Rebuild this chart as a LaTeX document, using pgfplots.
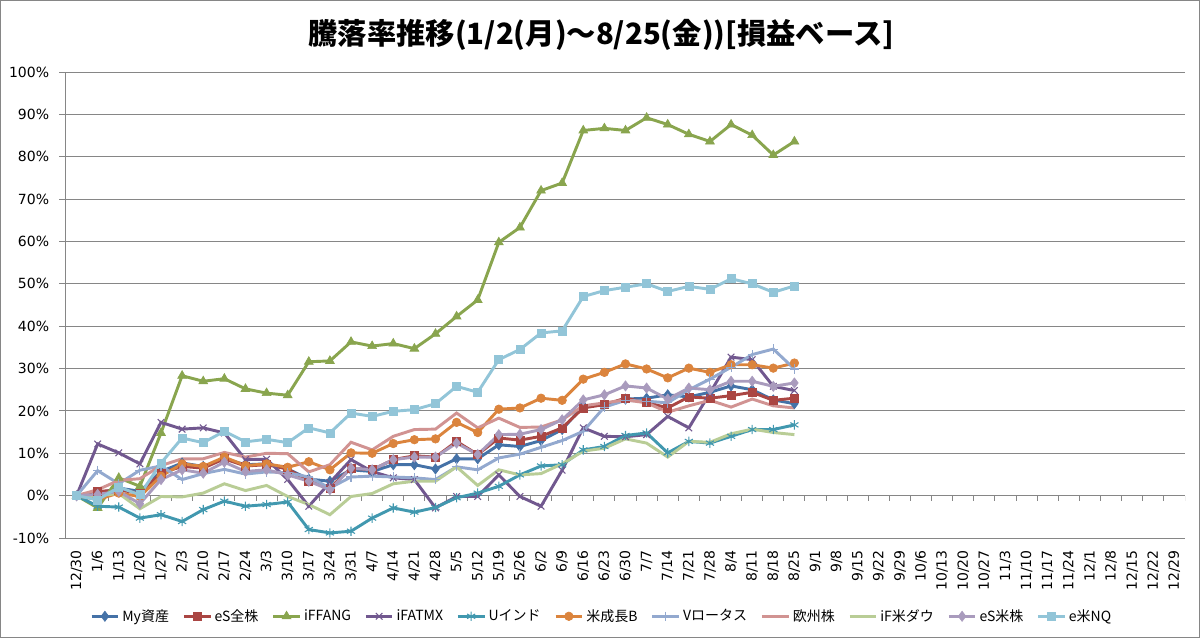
\documentclass[border=0pt]{standalone}
\usepackage{fontspec}
\setmainfont{DejaVu Sans}
\newfontfamily\jp{Noto Sans CJK JP}
\usepackage{pgfplots}
\pgfplotsset{compat=1.18}
\usepackage{pgfplotstable}
\definecolor{gridgray}{HTML}{868686}
\definecolor{c1}{HTML}{4572A7}
\definecolor{c2}{HTML}{AA4643}
\definecolor{c3}{HTML}{89A54E}
\definecolor{c4}{HTML}{71588F}
\definecolor{c5}{HTML}{4198AF}
\definecolor{c6}{HTML}{DB843D}
\definecolor{c7}{HTML}{93A9CF}
\definecolor{c8}{HTML}{D19392}
\definecolor{c9}{HTML}{B9CD96}
\definecolor{c10}{HTML}{A99BBD}
\definecolor{c11}{HTML}{92C5D8}

\pgfplotstableread{
x my esz fang fatmx uind seicho vlot euro dow esus nq
0 0 0 0 0 0 0 0 0 0 0 0
1 0.5 1.0 -2.9 12.2 -2.5 -0.9 5.9 1.4 0.0 0.3 -1.0
2 1.8 1.3 4.2 10.1 -2.7 0.6 2.8 3.6 0.5 1.0 2.0
3 1.0 0.6 2.2 7.5 -5.3 -0.2 6.0 4.0 -3.1 -1.9 0.2
4 5.7 5.3 14.8 17.3 -4.5 4.6 7.0 7.1 -0.2 3.8 7.7
5 7.7 6.9 28.3 15.7 -6.1 7.5 3.8 8.7 -0.3 6.1 13.6
6 6.9 6.5 27.0 16.0 -3.3 6.9 5.2 8.7 0.6 5.3 12.5
7 8.7 8.7 27.6 14.8 -1.3 9.1 6.2 10.2 2.8 7.9 15.2
8 7.3 7.0 25.2 8.5 -2.5 7.1 5.1 9.1 1.2 5.7 12.7
9 7.5 7.3 24.2 8.6 -2.1 7.5 5.6 10.0 2.4 6.1 13.3
10 6.3 6.3 23.7 3.8 -1.5 6.7 5.4 9.9 -0.2 4.9 12.5
11 3.9 3.4 31.6 -2.5 -8.0 8.0 4.4 5.6 -2.1 3.4 16.0
12 3.4 1.8 31.8 3.1 -8.8 6.1 1.8 7.3 -4.5 1.4 14.8
13 6.1 6.5 36.3 8.5 -8.4 10.1 4.4 12.6 -0.2 6.5 19.5
14 5.7 6.1 35.3 5.7 -5.3 10.0 4.6 10.8 0.5 6.1 18.7
15 7.3 8.5 35.9 4.2 -2.9 12.3 4.4 14.0 2.8 8.5 19.9
16 7.3 9.4 34.7 3.8 -3.9 13.2 4.2 15.6 3.4 9.1 20.3
17 6.3 9.1 38.2 -2.9 -2.8 13.4 3.8 15.7 3.4 9.1 21.7
18 8.7 12.8 42.3 -0.2 -0.5 17.3 6.8 19.5 6.8 12.4 25.8
19 8.7 9.7 46.2 -0.2 0.6 14.9 6.1 16.0 2.4 9.7 24.4
20 12.0 13.6 59.8 4.9 2.2 20.4 8.9 18.3 6.1 14.4 32.1
21 11.6 13.1 63.3 -0.2 4.9 20.7 9.8 16.1 4.9 14.5 34.5
22 13.0 14.0 72.0 -2.5 7.0 23.0 11.4 16.2 5.2 15.6 38.4
23 15.6 16.0 73.8 6.0 7.3 22.5 13.0 17.9 7.5 17.9 38.9
24 21.2 20.7 86.2 16.0 10.8 27.5 15.2 21.2 10.5 22.6 47.0
25 21.5 21.5 86.7 14.0 11.6 29.1 20.9 21.9 11.2 23.8 48.4
26 22.8 23.0 86.2 13.9 14.2 31.1 22.5 22.6 13.4 25.9 49.2
27 23.0 22.0 89.2 14.4 14.8 29.9 22.3 21.9 12.4 25.4 50.0
28 23.8 20.7 87.6 18.7 10.1 27.8 21.9 19.7 9.1 22.8 48.2
29 23.3 23.3 85.3 16.0 12.8 30.1 25.0 21.2 12.8 25.4 49.4
30 24.4 23.0 83.6 24.2 12.4 29.1 27.5 22.5 12.6 25.0 48.7
31 25.9 23.6 87.6 32.7 14.0 30.9 30.3 20.9 14.6 27.0 51.2
32 25.0 24.4 85.1 32.1 15.6 30.9 33.3 22.8 15.7 27.0 50.0
33 22.6 22.5 80.4 25.8 15.6 30.1 34.6 21.2 14.9 25.8 48.0
34 21.7 23.0 83.6 24.8 16.7 31.3 29.9 20.7 14.4 26.6 49.5
}\data

\begin{document}
\begin{tikzpicture}
\draw[gridgray, line width=0.75pt] (0.375pt,-0.375pt) rectangle (899.625pt,-478.125pt);
\node[font=\jp\bfseries\fontsize{22}{26}\selectfont] at (451pt,-26pt) {騰落率推移(1/2(月)～8/25(金))[損益ベース]};
\begin{axis}[
  at={(49.5pt,-403.5pt)}, anchor=south west,
  scale only axis, width=839.25pt, height=349.5pt,
  xmin=-0.5, xmax=52.5, ymin=-10, ymax=100,
  axis lines=left, axis line style={-},
  x axis line style={draw=none},
  y axis line style={draw=gridgray, line width=0.75pt},
  xtick={0,...,52},
  xticklabels={12/30,1/6,1/13,1/20,1/27,2/3,2/10,2/17,2/24,3/3,3/10,3/17,3/24,3/31,4/7,4/14,4/21,4/28,5/5,5/12,5/19,5/26,6/2,6/9,6/16,6/23,6/30,7/7,7/14,7/21,7/28,8/4,8/11,8/18,8/25,9/1,9/8,9/15,9/22,9/29,10/6,10/13,10/20,10/27,11/3,11/10,11/17,11/24,12/1,12/8,12/15,12/22,12/29},
  x tick style={draw=none},
  xticklabel shift=4pt,
  xticklabel style={rotate=90, anchor=east, font=\fontsize{10.5}{10.5}\selectfont, inner sep=0pt},
  ytick={-10,0,...,100},
  yticklabels={-10\%,0\%,10\%,20\%,30\%,40\%,50\%,60\%,70\%,80\%,90\%,100\%},
  y tick style={draw=gridgray, line width=0.75pt},
  tick align=outside, major tick length=5pt,
  yticklabel style={font=\fontsize{10.5}{10.5}\selectfont, inner sep=0pt, xshift=-7.5pt},
  ymajorgrids, grid style={draw=gridgray, line width=0.75pt},
  legend columns=11,
  legend style={at={(0.479,-0.168)}, anchor=center, draw=none, fill=none,
    font=\jp\fontsize{10.5}{12}\selectfont,
    /tikz/every even column/.append style={column sep=8pt}},
  legend image code/.code={\draw[mark repeat=2,mark phase=2] plot coordinates {(0pt,0pt) (10pt,0pt) (20pt,0pt)};},
  every axis plot/.append style={line width=2.2pt},
]
\draw[gridgray, line width=0.75pt] (axis cs:-0.5,0) -- (axis cs:52.5,0);
\pgfplotsinvokeforeach{0,...,53}{\draw[gridgray, line width=0.75pt] (axis cs:#1-0.5,0) -- (axis cs:#1-0.5,-1.2);}
\addplot[c1, mark=diamond*, mark size=3.8pt, mark options={solid, fill=c1, line width=0.5pt}] table[x=x,y=my] {\data};
\addlegendentry{My資産}
\addplot[c2, mark=square*, mark size=3pt, mark options={solid, fill=c2, line width=0.5pt}] table[x=x,y=esz] {\data};
\addlegendentry{eS全株}
\addplot[c3, mark=triangle*, mark size=3.8pt, mark options={solid, fill=c3, line width=0.5pt}] table[x=x,y=fang] {\data};
\addlegendentry{iFFANG}
\addplot[c4, mark=x, mark size=3.5pt, mark options={solid, line width=0.8pt}] table[x=x,y=fatmx] {\data};
\addlegendentry{iFATMX}
\addplot[c5, mark=asterisk, mark size=3.5pt, mark options={solid, line width=0.8pt}] table[x=x,y=uind] {\data};
\addlegendentry{Uインド}
\addplot[c6, mark=*, mark size=3.2pt, mark options={solid, fill=c6, line width=0.5pt}] table[x=x,y=seicho] {\data};
\addlegendentry{米成長B}
\addplot[c7, mark=+, mark size=3.5pt, mark options={solid, line width=0.8pt}] table[x=x,y=vlot] {\data};
\addlegendentry{Vロータス}
\addplot[c8, no markers] table[x=x,y=euro] {\data};
\addlegendentry{欧州株}
\addplot[c9, no markers] table[x=x,y=dow] {\data};
\addlegendentry{iF米ダウ}
\addplot[c10, mark=diamond*, mark size=3.8pt, mark options={solid, fill=c10, line width=0.5pt}] table[x=x,y=esus] {\data};
\addlegendentry{eS米株}
\addplot[c11, mark=square*, mark size=3pt, mark options={solid, fill=c11, line width=0.5pt}] table[x=x,y=nq] {\data};
\addlegendentry{e米NQ}
\end{axis}
\end{tikzpicture}
\end{document}
